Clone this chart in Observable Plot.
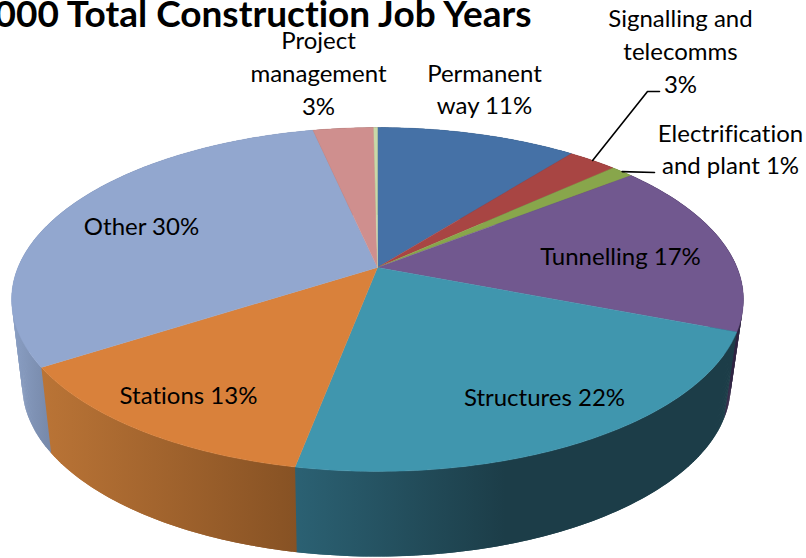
<!DOCTYPE html>
<html>
<head>
<meta charset="utf-8">
<script src="https://cdn.jsdelivr.net/npm/d3@7"></script>
<script src="https://cdn.jsdelivr.net/npm/@observablehq/plot@0.6"></script>
<style>html,body{margin:0;padding:0;background:#fff;overflow:hidden}svg{display:block}text{font-variant-ligatures:none;font-feature-settings:"liga" 0}</style>
</head>
<body>
<div id="chart"></div>
<script>
// Data, clockwise from the top of the pie
const categories = ["Permanent way","Signalling and telecomms","Electrification and plant","Tunnelling","Structures","Stations","Other","Project management","Unlabelled"];
const shares = [10.6,2.6,1.2,16.5,22.1,12.9,30.7,3.2,0.2];
const topColors = ["#4571a6","#a84543","#88a64b","#71588f","#4096ae","#d9813b","#92a7cf","#cf8f8e","#c9d8a8"];
const sideStart = ["#2e4c70","#70302e","#5b7032","#33274a","#2b6173","#ba7436","#8a9fc4","#8a5f5f","#839069"];
const sideEnd   = ["#2e4c70","#70302e","#5b7032","#2d2240","#1c3d48","#875224","#788aab","#8a5f5f","#839069"];
const labelTexts = ["Permanent\nway 11%","Signalling and\ntelecomms\n3%","Electrification\nand plant 1%","Tunnelling 17%","Structures 22%","Stations 13%","Other 30%","Project\nmanagement\n3%"];
const titleText = "000 Total Construction Job Years";

// Layout
const W = 806, H = 558;
const apex = [377, 267], A = 359.5, B = 166, K = 0.186;
const labelX = [484,680,730,620,544,188,141,318];
const labelY = [87,49,147,254,395,393,224,71];
const font = "Lato, Carlito, Calibri, sans-serif";

// Perspective view of the pie's top face, and the smaller base below it
function topPoint(theta) {
  const u = Math.sin(theta), v = Math.cos(theta), d = 1 + K * v;
  return [apex[0] + A * u / d, apex[1] - B * v / d];
}
function basePoint(theta) {
  const [x, y] = topPoint(theta);
  return [376 + (x - 377) * 0.968, 385 + (y - 299) * 0.995];
}
const total = d3.sum(shares);
let run = 0;
const slices = shares.map((s, i) => {
  const a0 = run / total * 2 * Math.PI; run += s;
  const a1 = run / total * 2 * Math.PI;
  const n = Math.max(2, Math.ceil((a1 - a0) / 0.01));
  const angles = d3.range(n + 1).map(k => a0 + (a1 - a0) * k / n);
  return {i, a0, a1, angles};
});
const pt = ([x, y]) => ({x, y});

// Side walls: overlapping quads, one per step, so the rim-to-base silhouette is filled without seams
const sideMarks = slices.map(s => {
  const rows = s.angles.slice(0, -1).flatMap((a, k) => {
    const b = s.angles[k + 2] ?? (s.a1 + 0.008);
    return [topPoint(a), topPoint(b), basePoint(b), basePoint(a)].map(p => ({...pt(p), k}));
  });
  return Plot.line(rows, {x: "x", y: "y", z: "k", fill: `url(#side${s.i})`, stroke: "none"});
});
const topMarks = slices.map(s => {
  const rows = [pt(apex), ...s.angles.map(a => pt(topPoint(a))), pt(apex)];
  return Plot.line(rows, {x: "x", y: "y", fill: topColors[s.i], stroke: topColors[s.i], strokeWidth: 0.4});
});

// Gradients for the side walls
const defsMark = () => {
  const defs = d3.create("svg:defs");
  slices.forEach(s => {
    let xs = s.angles.map(a => topPoint(a)[0]);
    if (s.i === 4) xs = [topPoint(s.a1)[0], topPoint(s.a1)[0] + 210];
    const g = defs.append("linearGradient").attr("id", `side${s.i}`)
      .attr("gradientUnits", "userSpaceOnUse")
      .attr("x1", d3.min(xs)).attr("x2", d3.max(xs)).attr("y1", 0).attr("y2", 0);
    g.append("stop").attr("offset", 0).attr("stop-color", sideStart[s.i]);
    // Other's wall is only visible at the far left, so its ramp is short
    g.append("stop").attr("offset", s.i === 6 ? 0.12 : 1).attr("stop-color", sideEnd[s.i]);
  });
  return defs.node();
};

// Leader lines start on the rim at the middle of their slice
const mid = s => (s.a0 + s.a1) / 2;
const leader1 = [pt(topPoint(mid(slices[1]))), {x: labelX[1] - 33, y: 91}, {x: labelX[1] - 21, y: 91}];
const leader2 = [pt(topPoint(mid(slices[2]))), {x: labelX[2] - 76, y: 172}];

const labels = labelTexts.map((text, i) => ({text, x: labelX[i], y: labelY[i]}));

const chart = Plot.plot({
  width: W, height: H,
  marginTop: 0, marginRight: 0, marginBottom: 0, marginLeft: 0,
  x: {domain: [0, W], range: [0, W], axis: null},
  y: {domain: [0, H], range: [0, H], axis: null},
  style: {background: "#fff", overflow: "hidden"},
  marks: [
    defsMark,
    ...sideMarks,
    ...topMarks,
    Plot.line(leader1, {x: "x", y: "y", stroke: "#000", strokeWidth: 1.6}),
    Plot.line(leader2, {x: "x", y: "y", stroke: "#000", strokeWidth: 1.6}),
    Plot.text(labels, {x: "x", y: "y", text: "text", fill: "#000", fontSize: 24, lineHeight: 1.37, fontFamily: font, textAnchor: "middle", lineAnchor: "middle"}),
    Plot.text([titleText], {x: [531], y: [26], text: d => d, fill: "#000", fontSize: 37, fontWeight: 700, fontFamily: font, textAnchor: "end", lineAnchor: "bottom"})
  ]
});
document.getElementById("chart").append(chart);
</script>
</body>
</html>
